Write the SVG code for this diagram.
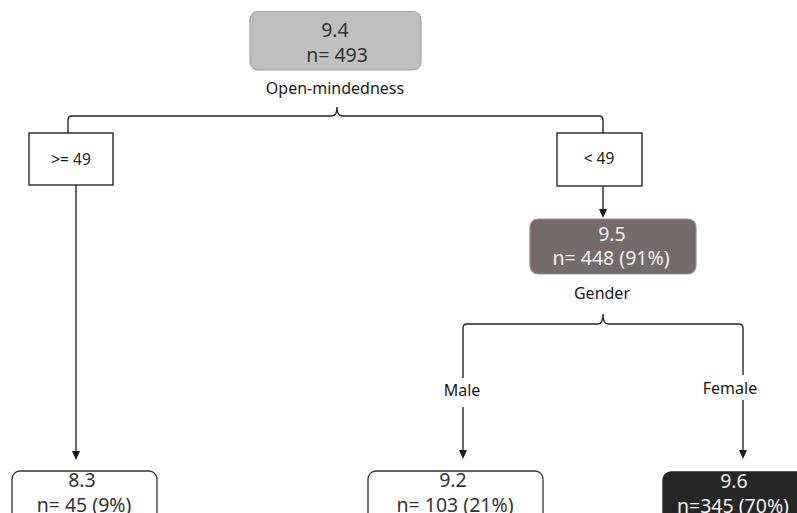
<svg xmlns="http://www.w3.org/2000/svg" width="797" height="513" viewBox="0 0 797 513">
<defs>
<style>
text{font-family:"Noto Sans","Open Sans","Liberation Sans",sans-serif;text-anchor:middle}
.val{font-size:19.5px}
.lbl{font-size:16px;fill:#1a1a1a}
.cond{font-size:15.5px;fill:#1a1a1a}
.ln{fill:none;stroke:#262626;stroke-width:1.4}
.ah{fill:#1a1a1a}
.cbox{fill:#ffffff;stroke:#262626;stroke-width:1.4}
</style>
</defs>
<g id="connectors">
<path class="ln" d="M68,133 V120 Q68,116 72,116 H332 Q337,116 337,107 Q337,116 342,116 H599 Q603,116 603,120 V133"/>
<path class="ln" d="M76,185 V452"/>
<path class="ah" d="M72,451 L76,460 L80,451 Z"/>
<path class="ln" d="M603,186 V210"/>
<path class="ah" d="M599,209 L603,218 L607,209 Z"/>
<path class="ln" d="M463,378 V328 Q463,324 467,324 H598 Q603,324 603,314 Q603,324 608,324 H739 Q743,324 743,328 V375"/>
<path class="ln" d="M463,407 V451"/>
<path class="ah" d="M459,450 L463,459 L467,450 Z"/>
<path class="ln" d="M743,400 V451"/>
<path class="ah" d="M739,450 L743,459 L747,450 Z"/>
</g>
<g id="root">
<rect x="250" y="11.5" width="171" height="58.5" rx="8" fill="#bfbfbf" stroke="#a6a6a6" stroke-width="1.2"/>
<text class="val" x="335" y="37" fill="#333333">9.4</text>
<text class="val" x="337" y="62" fill="#333333">n= 493</text>
<text class="lbl" x="335" y="94">Open-mindedness</text>
</g>
<g id="cond-ge49">
<rect class="cbox" x="29" y="133" width="84" height="52"/>
<text class="cond" x="71" y="165">&gt;= 49</text>
</g>
<g id="cond-lt49">
<rect class="cbox" x="557" y="133" width="85" height="53"/>
<text class="cond" x="599" y="164">&lt; 49</text>
</g>
<g id="node-95">
<rect x="530" y="219" width="166" height="55" rx="8" fill="#756b6b" stroke="#948b8b" stroke-width="1.2"/>
<text class="val" x="612" y="241" fill="#f2f2f2">9.5</text>
<text class="val" x="611" y="265" fill="#f2f2f2">n= 448 (91%)</text>
<text class="lbl" x="602" y="299">Gender</text>
</g>
<g id="label-male">
<text class="lbl" x="462" y="396">Male</text>
</g>
<g id="label-female">
<text class="lbl" x="730" y="394">Female</text>
</g>
<g id="node-83">
<rect x="12" y="471" width="145" height="60" rx="8" fill="#ffffff" stroke="#333333" stroke-width="1.3"/>
<text class="val" x="82" y="487" fill="#333333">8.3</text>
<text class="val" x="84" y="512" fill="#333333">n= 45 (9%)</text>
</g>
<g id="node-92">
<rect x="368" y="471" width="175" height="60" rx="8" fill="#ffffff" stroke="#333333" stroke-width="1.3"/>
<text class="val" x="453" y="487" fill="#333333">9.2</text>
<text class="val" x="455" y="512" fill="#333333">n= 103 (21%)</text>
</g>
<g id="node-96">
<rect x="663" y="472" width="145" height="60" rx="8" fill="#262626" stroke="#262626" stroke-width="1.3"/>
<text class="val" x="734" y="488" fill="#f2f2f2">9.6</text>
<text class="val" x="733" y="513" fill="#f2f2f2">n=345 (70%)</text>
</g>
</svg>
